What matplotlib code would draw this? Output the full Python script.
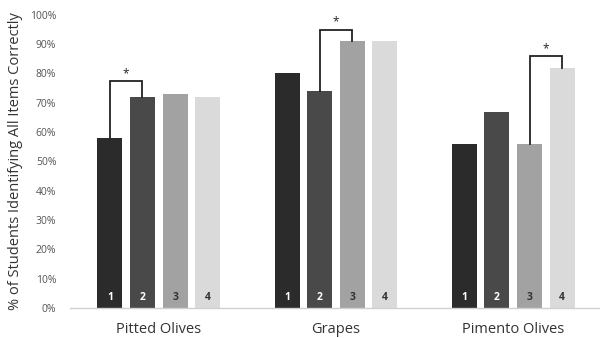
import matplotlib
matplotlib.use("Agg")
import matplotlib.pyplot as plt
import numpy as np

plt.rcParams['font.family'] = ['Open Sans', 'DejaVu Sans']

categories = ["Pitted Olives", "Grapes", "Pimento Olives"]
series_names = ["1", "2", "3", "4"]
values = {
    "1": [58, 80, 56],
    "2": [72, 74, 67],
    "3": [73, 91, 56],
    "4": [72, 91, 82],
}
colors = ["#2b2b2b", "#494949", "#a2a2a2", "#dadada"]
label_colors = ["white", "white", "#333333", "#333333"]
yticks = [0, 10, 20, 30, 40, 50, 60, 70, 80, 90, 100]
# significance brackets: (category index, bar a, bar b, bracket height)
brackets = [(0, 0, 1, 77.5), (1, 1, 2, 95), (2, 2, 3, 86)]

fig = plt.figure(figsize=(6, 3.38), dpi=100)
ax = fig.add_axes([0.117, 0.089, 0.886, 0.867])

x = np.arange(len(categories))
width = 0.141
pitch = 0.184
offsets = (np.arange(4) - 1.5) * pitch
for i, s in enumerate(series_names):
    xs = x + offsets[i]
    ax.bar(xs, values[s], width=width, color=colors[i], edgecolor='none', zorder=2)
    for xx in xs:
        ax.text(xx, 1.6, s, ha='center', va='bottom', fontsize=7.5, fontweight='bold',
                color=label_colors[i], zorder=3)

for ci, a, b, h in brackets:
    xa = x[ci] + offsets[a]
    xb = x[ci] + offsets[b]
    ya = values[series_names[a]][ci]
    yb = values[series_names[b]][ci]
    ax.plot([xa, xa, xb, xb], [ya, h, h, yb], color='#222222', lw=1.3, zorder=4,
            solid_joinstyle='miter')
    ax.text((xa + xb) / 2, h + 0.3, "*", ha='center', va='bottom', fontsize=8.5,
            color='#222222')

ax.set_xlim(-0.5, len(categories) - 0.5)
ax.set_ylim(0, 100)
ax.set_yticks(yticks)
ax.set_yticklabels([f"{t}%" for t in yticks], fontsize=7.5, color='#555555')
ax.set_xticks(x)
ax.set_xticklabels(categories, fontsize=10.5, color='#333333')
ax.tick_params(axis='both', length=0)
ax.tick_params(axis='x', pad=10)
ax.tick_params(axis='y', pad=10)
for sp in ['top', 'right', 'left']:
    ax.spines[sp].set_visible(False)
ax.spines['bottom'].set_color('#d0d0d0')
ax.spines['bottom'].set_linewidth(1)
ax.set_ylabel("% of Students Identifying All Items Correctly", fontsize=10.5, color='#333333',
              labelpad=5)

fig.savefig("out.png", dpi=100)
